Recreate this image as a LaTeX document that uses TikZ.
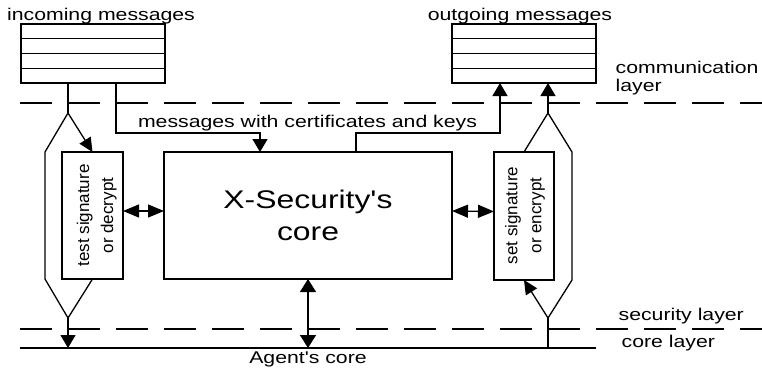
\documentclass[tikz,border=0pt]{standalone}
\usepackage{fontspec}
\setmainfont{Liberation Sans}
\usetikzlibrary{arrows.meta,calc}
\newcommand{\hs}[1]{\scalebox{1.25}[1]{#1}}
\begin{document}
\begin{tikzpicture}[x=1pt,y=-1pt,line width=1.3pt,
  box/.style={draw,line width=1.3pt,inner sep=0pt,outer sep=0pt,anchor=north west},
  lbl/.style={font=\fontsize{17}{20}\selectfont,inner sep=0pt},
  rlbl/.style={font=\fontsize{17}{24}\selectfont,inner sep=0pt},
  vtip/.style={-{Triangle[length=13pt,width=15pt]}},
  dtip/.style={-{Triangle[length=14pt,width=13pt]}},
  hboth/.style={{Triangle[length=16pt,width=13pt]}-{Triangle[length=16pt,width=13pt]}},
  vboth/.style={{Triangle[length=13pt,width=16pt]}-{Triangle[length=13pt,width=16pt]}},
  layerdash/.style={dash pattern=on 32pt off 16pt}]
\useasboundingbox (0,0) rectangle (762,369);

% queues
\node[box,minimum width=144pt,minimum height=59pt] (inq) at (21,24) {};
\node[box,minimum width=144pt,minimum height=59pt] (outq) at (452,24) {};
\foreach \q in {inq,outq}{
  \foreach \d in {14.75,29.5,44.25}{
    \draw ($(\q.north west)+(0,\d)$) -- ($(\q.north east)+(0,\d)$);
  }
}
\node[lbl,anchor=base] (tin) at (101,20.5) {\hs{incoming messages}};
\node[lbl,anchor=base] (tout) at (520,20.5) {\hs{outgoing messages}};

% boxes
\node[box,minimum width=61pt,minimum height=127pt] (test) at (62,152) {};
\node[box,minimum width=288pt,minimum height=127pt,align=center,
      font=\fontsize{25.5}{32}\selectfont] (core) at (164,152) {\hs{X-Security\textquotesingle s}\\\hs{core}};
\node[box,minimum width=60pt,minimum height=128pt] (set) at (494,152) {};
\node[rlbl] (testtxt) at (96.2,215.5)
  {\rotatebox{90}{\begin{tabular}{@{}c@{}}test signature\\or decrypt\end{tabular}}};
\node[rlbl] (settxt) at (524.5,215.5)
  {\rotatebox{90}{\begin{tabular}{@{}c@{}}set signature\\or encrypt\end{tabular}}};

% layer lines
\coordinate (cl1) at (20,103); \coordinate (cl2) at (762,103);
\coordinate (sl1) at (20,329); \coordinate (sl2) at (762,329);
\coordinate (kl1) at (20,348); \coordinate (kl2) at (596,348);
\draw[layerdash] (cl1) -- (cl2);
\draw[layerdash] (sl1) -- (sl2);
\draw (kl1) -- (kl2);
\node[lbl,anchor=base west] (lcom1) at (615,73.5) {\hs{communication}};
\node[lbl,anchor=base west] (lcom2) at (615,91.5) {\hs{layer}};
\node[lbl,anchor=base west] (lsec) at (618,320) {\hs{security layer}};
\node[lbl,anchor=base west] (lcore) at (621,347) {\hs{core layer}};
\node[lbl,anchor=base] (agent) at (308,363) {\hs{Agent\textquotesingle s core}};

% left (incoming) branch
\coordinate (inA) at ($(inq.south west)+(47,0)$);
\coordinate (bL) at (68,113);
\coordinate (jL) at (68,318);
\coordinate (jLc) at (68,348);
\draw (inA) -- (bL);
\draw (bL) -- (45,152) -- (45,279) -- (jL);
\draw[dtip] (bL) -- (test.north);
\draw (test.south) -- (jL);
\draw[vtip] (jL) -- (jLc);

% messages with certificates and keys
\coordinate (inB) at ($(inq.south west)+(95,0)$);
\coordinate (coreIn) at ($(core.north west)+(96,0)$);
\coordinate (coreOut) at ($(core.north west)+(192,0)$);
\coordinate (outA) at ($(outq.south west)+(48,0)$);
\draw[vtip] (inB) -- (116,133) -- (coreIn |- 0,133) -- (coreIn);
\draw[vtip] (coreOut) -- (coreOut |- 0,133) -- (outA |- 0,133) -- (outA);
\node[lbl,anchor=base] (mwck) at (307.5,127) {\hs{messages with certificates and keys}};

% right (outgoing) branch
\coordinate (outB) at ($(outq.south west)+(96,0)$);
\coordinate (bR) at (548,113);
\coordinate (jR) at (548,318);
\coordinate (jRc) at (548,348);
\draw[vtip] (bR) -- (outB);
\draw (set.north) -- (bR) -- (572,152) -- (572,280) -- (jR);
\draw[dtip] (jR) -- (set.south);
\draw (jRc) -- (jR);

% double arrows
\draw[hboth] ($(test.east)+(0,-4.5)$) -- ($(core.west)+(0,-4.5)$);
\draw[hboth] ($(core.east)+(0,-4.5)$) -- ($(set.west)+(0,-4.5)$);
\coordinate (agentTop) at (308,348);
\draw[vboth] (core.south) -- (agentTop);
\end{tikzpicture}
\end{document}
